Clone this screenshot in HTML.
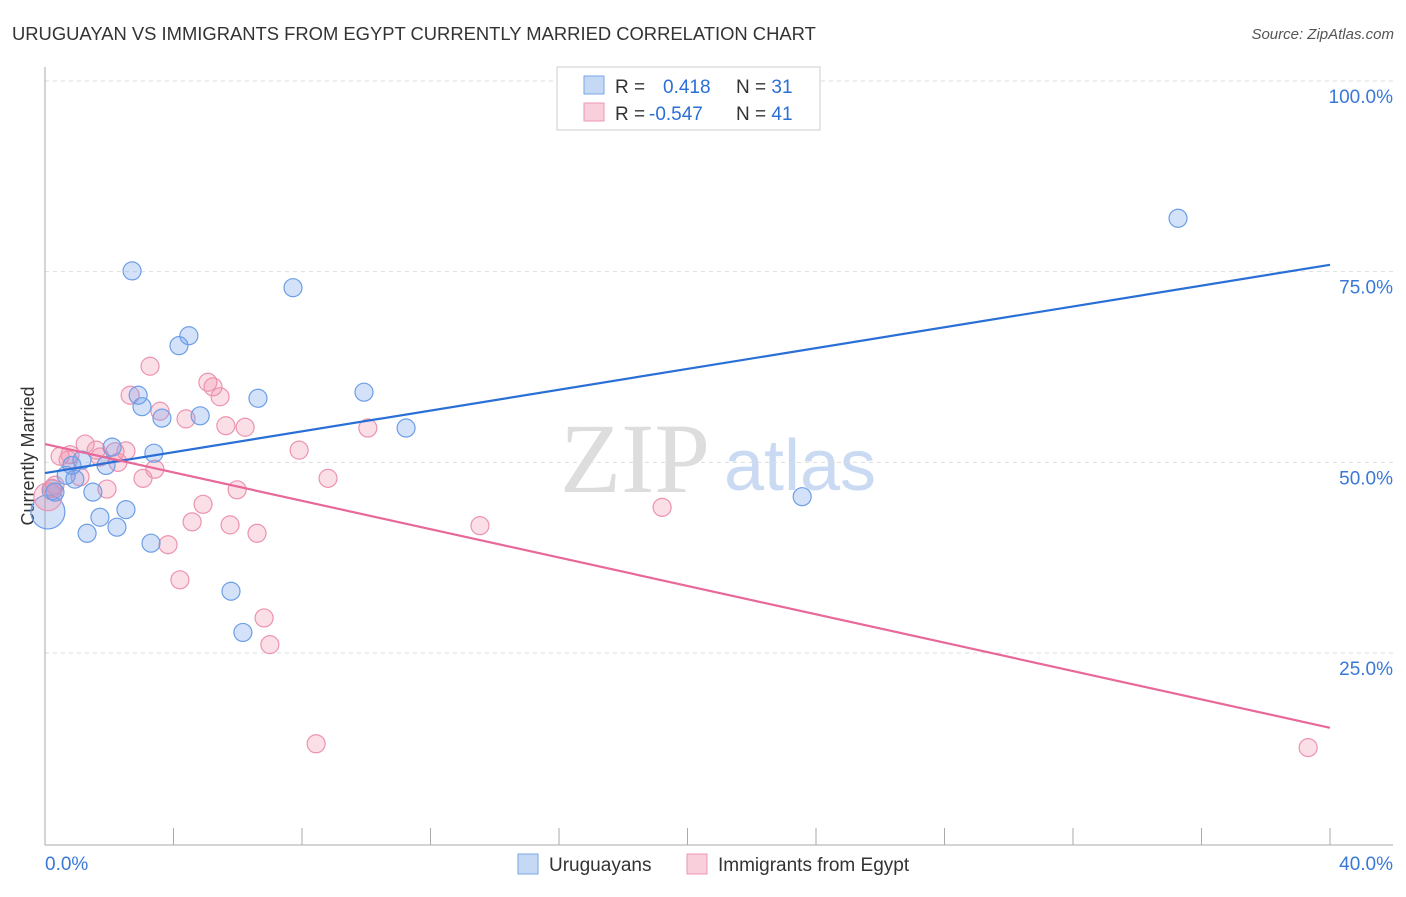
<!DOCTYPE html>
<html><head><meta charset="utf-8"><style>
body{margin:0;background:#fff;font-family:"Liberation Sans",sans-serif;}
</style></head><body>
<svg id="c" width="1406" height="892" xmlns="http://www.w3.org/2000/svg">
<text x="12" y="40" font-size="18.4" fill="#333">URUGUAYAN VS IMMIGRANTS FROM EGYPT CURRENTLY MARRIED CORRELATION CHART</text>
<text x="1394" y="39" font-size="15" fill="#555" font-style="italic" text-anchor="end">Source: ZipAtlas.com</text>
<text x="635" y="492" font-size="100" fill="#ddd" font-family="Liberation Serif,serif" text-anchor="middle">ZIP</text>
<text x="800" y="490" font-size="72" fill="#c9daf2" text-anchor="middle">atlas</text>
<text transform="translate(34,456) rotate(-90)" font-size="18" fill="#333" text-anchor="middle">Currently Married</text>
<g id="grid"></g><g id="marks"></g>
<g>
<rect x="557" y="67" width="263" height="63" fill="#fff" stroke="#ccc"/>
<rect x="584" y="76" width="20" height="18" fill="#c5d9f5" stroke="#7aa6e6"/>
<rect x="584" y="103" width="20" height="18" fill="#f9cfdc" stroke="#eb97b4"/>
<text x="615" y="93" font-size="19" fill="#333">R = <tspan fill="#2a6fd6" x="663">0.418</tspan><tspan fill="#333" x="736">N = </tspan><tspan fill="#2a6fd6">31</tspan></text>
<text x="615" y="120" font-size="19" fill="#333">R = <tspan fill="#2a6fd6" x="649">-0.547</tspan><tspan fill="#333" x="736">N = </tspan><tspan fill="#2a6fd6">41</tspan></text>
</g>
<g>
<rect x="518" y="854" width="20" height="20" fill="#c5d9f5" stroke="#7aa6e6"/>
<text x="549" y="871" font-size="19" fill="#333">Uruguayans</text>
<rect x="687" y="854" width="20" height="20" fill="#f9cfdc" stroke="#eb97b4"/>
<text x="718" y="871" font-size="19" fill="#333">Immigrants from Egypt</text>
</g>
</svg>
<script>
const blueXs=[2.71,7.72,4.48,4.17,2.90,3.02,3.64,4.83,6.63,9.93,11.24,3.39,2.09,1.15,1.90,0.84,0.66,0.93,0.31,1.49,1.71,2.52,2.24,1.31,3.30,5.79,6.16,23.57,35.27];
const blueVals=[75.1,72.9,66.6,65.3,58.8,57.3,55.8,56.1,58.4,59.2,54.5,51.2,52.0,50.3,49.6,49.6,48.3,47.8,46.1,46.1,42.8,43.8,41.5,40.7,39.4,33.1,27.7,45.5,82.0];
const blueXBig=[0.09,0.22];
const blueYBig=[43.5,46.4];
const pinkX=[3.27,5.07,5.23,2.65,5.45,3.58,4.39,5.63,6.23,10.05,1.25,1.59,2.18,2.52,0.47,0.72,2.27,7.91,3.42,3.05,1.09,8.81,0.31,1.93,5.98,4.92,4.58,5.76,6.60,13.54,19.21,3.83,4.20,6.82,7.00,8.44,39.32,0.09,0.22,1.71,0.78];
const pinkVals=[62.6,60.5,59.9,58.8,58.6,56.7,55.7,54.8,54.6,54.5,52.4,51.6,51.4,51.5,50.8,50.3,50.0,51.6,49.1,47.9,48.1,47.9,47.0,46.5,46.4,44.5,42.2,41.8,40.7,41.7,44.1,39.2,34.6,29.6,26.1,13.1,12.6,45.5,46.6,50.7,51.0];
const blueLine=[48.6,75.9];
const pinkLine=[52.4,15.2];
const xTicks=[0,4,8,12,16,20,24,28,32,36,40];
const yTicks=[25,50,75,100];
const sx=v=>45+v/40*1285;
const sy=v=>81+(100-v)*7.627;
const NS="http://www.w3.org/2000/svg";
const grid=document.getElementById('grid'),marks=document.getElementById('marks');
function mk(t,a,p){const e=document.createElementNS(NS,t);for(const k in a)e.setAttribute(k,a[k]);p.appendChild(e);return e;}
yTicks.forEach(v=>{
 const l=mk('line',{x1:45,x2:1393,y1:sy(v),y2:sy(v),stroke:'#ddd','stroke-dasharray':'4,4'},grid);
 
 
 const t=mk('text',{x:1393,y:sy(v)+22,'font-size':19,fill:'#3a78d8','text-anchor':'end'},grid);t.textContent=v.toFixed(1)+'%';
 
 
});
mk('line',{x1:45,x2:45,y1:67,y2:845,stroke:'#aaa'},grid);
mk('line',{x1:45,x2:1393,y1:845,y2:845,stroke:'#aaa'},grid);
xTicks.forEach(v=>{const l=mk('line',{x1:sx(v),x2:sx(v),y1:828,y2:845,stroke:'#aaa'},grid);
 
 });
[[0,'0.0%','start',45],[40,'40.0%','end',1393]].forEach(d=>{const t=mk('text',{x:d[3],y:870,'font-size':19,fill:'#3a78d8','text-anchor':d[2]},grid);t.textContent=d[1];
 
 });
function dot(x,y,r,c){return mk('circle',{cx:sx(x),cy:sy(y),r:r,fill:c[0],stroke:c[1],'stroke-width':1.2},marks);}
const B=['rgba(110,160,235,0.3)','#6d9ee6'],P=['rgba(240,140,170,0.28)','#ec93b0'];
blueXBig.forEach((x,i)=>{const e=dot(x,blueYBig[i],i?10:17,B);
 
 });
pinkX.forEach((x,i)=>{const e=dot(x,pinkVals[i],i==37?14:9,P);
 
 });
blueXs.forEach((x,i)=>{const e=dot(x,blueVals[i],9,B);
 
 });
const bl=mk('line',{x1:sx(0),y1:sy(blueLine[0]),x2:sx(40),y2:sy(blueLine[1]),stroke:'#2a6fd6','stroke-width':2.2},marks);


const pl=mk('line',{x1:sx(0),y1:sy(pinkLine[0]),x2:sx(40),y2:sy(pinkLine[1]),stroke:'#e8689a','stroke-width':2.2},marks);


</script>
</body></html>
